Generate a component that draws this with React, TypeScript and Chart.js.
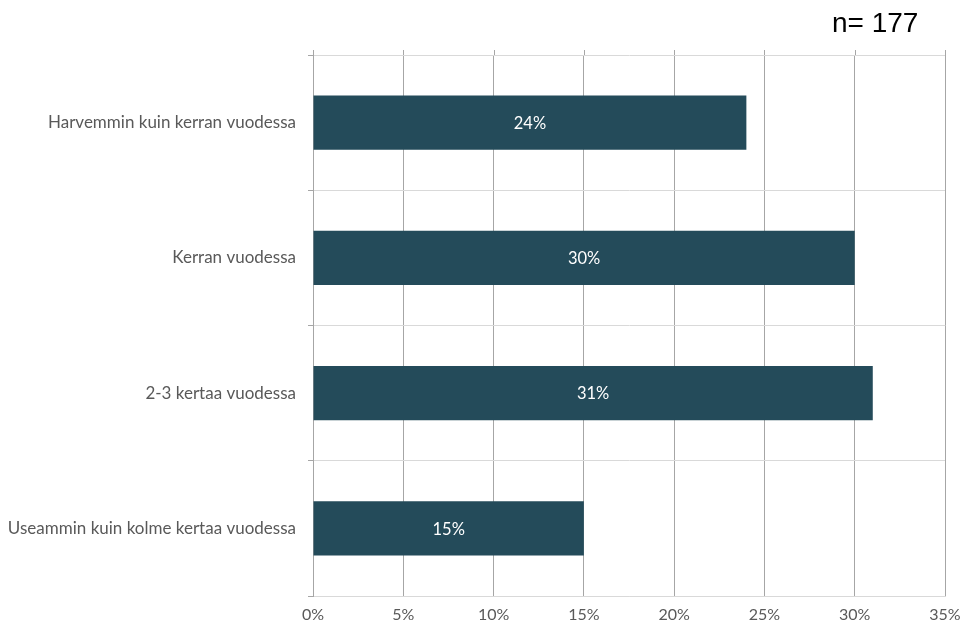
import React, { useEffect, useRef } from "react";
import { Chart, registerables } from "chart.js";

Chart.register(...registerables);

const categories = [
  "Harvemmin kuin kerran vuodessa",
  "Kerran vuodessa",
  "2-3 kertaa vuodessa",
  "Useammin kuin kolme kertaa vuodessa",
];
const values = [24, 30, 31, 15];
const sampleNote = "n= 177";
const xMax = 35;
const xStep = 5;

const FONT = "Lato, 'Open Sans', sans-serif";

const extrasPlugin = {
  id: "extras",
  afterDraw(chart: any) {
    const ctx = chart.ctx;
    const area = chart.chartArea;
    const xs = chart.scales.x;
    ctx.save();
    // small tick marks above the plot at each x tick
    ctx.strokeStyle = "#a6a6a6";
    ctx.lineWidth = 1;
    xs.ticks.forEach((_t: any, i: number) => {
      const px = Math.round(xs.getPixelForTick(i)) + 0.5;
      ctx.beginPath();
      ctx.moveTo(px, area.top - 5);
      ctx.lineTo(px, area.top);
      ctx.stroke();
    });
    // data labels
    const meta = chart.getDatasetMeta(0);
    ctx.fillStyle = "#ffffff";
    ctx.font = `16.5px ${FONT}`;
    ctx.textAlign = "center";
    ctx.textBaseline = "middle";
    meta.data.forEach((bar: any, i: number) => {
      const cx = (bar.x + bar.base) / 2;
      ctx.fillText(`${values[i]}%`, cx, bar.y + 1);
    });
    // n label
    ctx.fillStyle = "#000000";
    ctx.font = `28px 'Liberation Sans', Arial, sans-serif`;
    ctx.textAlign = "left";
    ctx.textBaseline = "alphabetic";
    ctx.fillText(sampleNote, 832, 32);
    ctx.restore();
  },
};

export default function App() {
  const ref = useRef<HTMLCanvasElement | null>(null);
  useEffect(() => {
    if (!ref.current) return;
    const chart = new Chart(ref.current, {
      type: "bar",
      data: {
        labels: categories,
        datasets: [
          {
            data: values,
            backgroundColor: "#244b5a",
            categoryPercentage: 1,
            barPercentage: 0.4,
          },
        ],
      },
      options: {
        indexAxis: "y",
        animation: false,
        responsive: false,
        maintainAspectRatio: false,
        layout: { padding: { left: 0, right: 20, top: 55, bottom: 0 } },
        plugins: {
          legend: { display: false },
          tooltip: { enabled: false },
        },
        scales: {
          x: {
            min: 0,
            max: xMax,
            ticks: {
              stepSize: xStep,
              callback: (v: any) => `${v}%`,
              color: "#595959",
              font: { family: FONT, size: 16 },
              padding: 9,
            },
            grid: {
              color: "#a6a6a6",
              drawTicks: false,
            },
            border: { display: true, color: "#d9d9d9" },
            afterFit: (s: any) => {
              s.height = 32;
              s.paddingLeft = 0;
              s.paddingRight = 0;
            },
          },
          y: {
            ticks: {
              color: "#595959",
              font: { family: FONT, size: 17 },
              padding: 12,
            },
            grid: {
              offset: true,
              color: "#d9d9d9",
              tickColor: "#a6a6a6",
              tickLength: 5,
            },
            border: { display: true, color: "#a6a6a6" },
            afterFit: (s: any) => {
              s.width = 313;
              s.paddingTop = 0;
              s.paddingBottom = 0;
            },
          },
        },
      },
      plugins: [extrasPlugin],
    });
    return () => chart.destroy();
  }, []);
  return (
    <div style={{ position: "fixed", left: 0, top: 0, width: 965, height: 628, background: "#fff" }}>
      <canvas ref={ref} width={965} height={628} style={{ width: 965, height: 628 }} />
    </div>
  );
}
